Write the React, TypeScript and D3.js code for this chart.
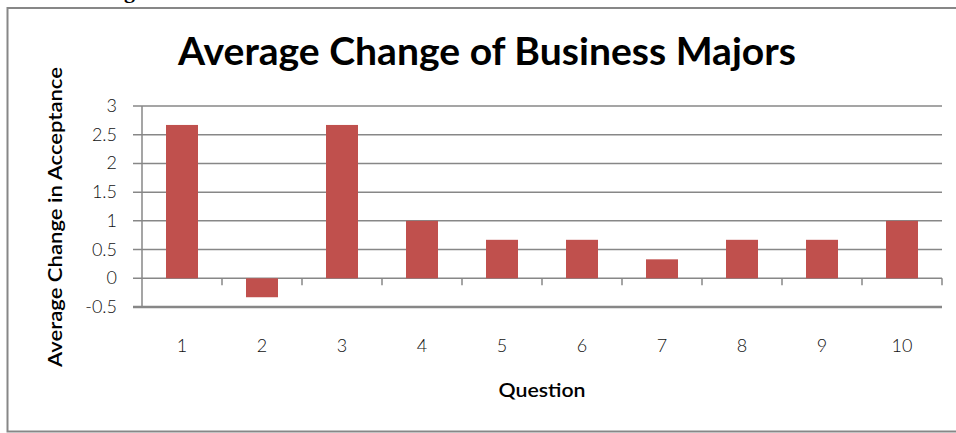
import React from "react";
import * as d3 from "d3";

const categories = ["1", "2", "3", "4", "5", "6", "7", "8", "9", "10"];
const values = [2.67, -0.33, 2.67, 1, 0.67, 0.67, 0.33, 0.67, 0.67, 1];
const yTicks = [-0.5, 0, 0.5, 1, 1.5, 2, 2.5, 3];
const yTickLabels = ["-0.5", "0", "0.5", "1", "1.5", "2", "2.5", "3"];
const title = "Average Change of Business Majors";
const xTitle = "Question";
const yTitle = "Average Change in Acceptance";

export default function App() {
  const W = 956, H = 433;
  const left = 142, right = 942, top = 106, bottom = 307;
  const x = d3.scaleBand<string>().domain(categories).range([left, right]).paddingInner(0.6).paddingOuter(0.3);
  const y = d3.scaleLinear().domain([-0.5, 3]).range([bottom, top]);
  const grid = "#878787";
  const font = "Lato, 'Open Sans', sans-serif";
  const y0 = y(0);
  const step = (right - left) / categories.length;
  return (
    <svg width={W} height={H} style={{ position: "absolute", left: 0, top: 0 }} fontFamily={font}>
      <rect x={0} y={0} width={W} height={H} fill="#fff" />
      <text x={124} y={-2} fontFamily="'Liberation Serif', serif" fontWeight="bold" fontSize={22}>g</text>
      <rect x={7.5} y={8} width={1100} height={423.5} fill="none" stroke={grid} strokeWidth={2} />
      <text x={487} y={65} textAnchor="middle" fontWeight="bold" fontSize={38} textLength={618} lengthAdjust="spacingAndGlyphs">{title}</text>
      {yTicks.map((t, i) => (
        <g key={t}>
          <line x1={133} x2={t === -0.5 ? right : right} y1={y(t)} y2={y(t)} stroke={grid} strokeWidth={t === -0.5 ? 2.5 : 1.5} />
          <text x={117} y={y(t) + 6} textAnchor="end" fontSize={18} fill="#111" fontWeight={300}>{yTickLabels[i]}</text>
        </g>
      ))}
      <line x1={left} x2={left} y1={top} y2={bottom} stroke={grid} strokeWidth={1.5} />
      {categories.map((c, i) => (
        <line key={"t" + c} x1={left + (i + 1) * step} x2={left + (i + 1) * step} y1={y0} y2={y0 + 7} stroke={grid} strokeWidth={1.5} />
      ))}
      {categories.map((c, i) => (
        <rect key={"b" + c} x={x(c)} width={x.bandwidth()} y={y(Math.max(0, values[i]))} height={Math.abs(y(values[i]) - y0)} fill="#C0504D" />
      ))}
      {categories.map((c) => (
        <text key={"l" + c} x={(x(c) as number) + x.bandwidth() / 2} y={352} textAnchor="middle" fontSize={18} fill="#111" fontWeight={300}>{c}</text>
      ))}
      <text x={542} y={397} textAnchor="middle" fontSize={19} fontWeight={600} textLength={87} lengthAdjust="spacingAndGlyphs">{xTitle}</text>
      <text transform={`translate(62,217) rotate(-90)`} textAnchor="middle" fontSize={19} fontWeight={600} textLength={300} lengthAdjust="spacingAndGlyphs">{yTitle}</text>
    </svg>
  );
}
